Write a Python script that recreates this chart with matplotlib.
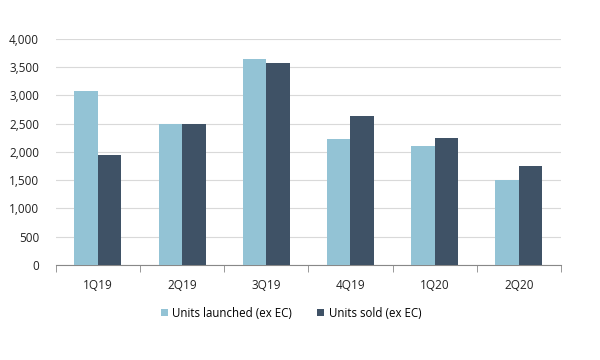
import numpy as np
import matplotlib.pyplot as plt
from matplotlib.ticker import FuncFormatter, FixedLocator

plt.rcParams['font.family'] = ['Open Sans', 'DejaVu Sans']

quarters = ['1Q19', '2Q19', '3Q19', '4Q19', '1Q20', '2Q20']
launched = [3080, 2500, 3640, 2220, 2100, 1500]
sold = [1940, 2500, 3570, 2630, 2250, 1750]

c_launch = '#93C3D5'
c_sold = '#3F5266'

fig = plt.figure(figsize=(6, 3.6), dpi=100)
ax = fig.add_axes([0.093, 0.264, 0.842, 0.628])

x = np.arange(len(quarters))
w = 0.28
ax.bar(x - w / 2, launched, w, color=c_launch, label='Units launched (ex EC)', zorder=3)
ax.bar(x + w / 2, sold, w, color=c_sold, label='Units sold (ex EC)', zorder=3)

ax.set_xlim(-0.5, len(quarters) - 0.5)
ax.set_ylim(0, 4000)
ax.set_yticks(np.arange(0, 4001, 500))
ax.yaxis.set_major_formatter(FuncFormatter(lambda v, p: f'{int(v):,}'))
ax.yaxis.grid(True, color='#D9D9D9', linewidth=0.8, zorder=0)
ax.tick_params(axis='y', length=0, labelsize=8.5, colors='#222222', pad=12)

ax.set_xticks(x)
ax.set_xticklabels(quarters)
ax.tick_params(axis='x', which='major', length=0, labelsize=8.5, colors='#222222', pad=10)
ax.xaxis.set_minor_locator(FixedLocator(np.arange(-0.5, len(quarters), 1)))
ax.tick_params(axis='x', which='minor', length=5, direction='out', color='#888888')

for s in ['left', 'right', 'top']:
    ax.spines[s].set_visible(False)
ax.spines['bottom'].set_color('#888888')
ax.spines['bottom'].set_linewidth(0.8)

fig.legend(loc='center', bbox_to_anchor=(0.485, 0.13), ncol=2, frameon=False,
           fontsize=8.3, handlelength=0.6, handleheight=0.6, columnspacing=2.2,
           handletextpad=0.4)

fig.savefig('out.png', dpi=100)
